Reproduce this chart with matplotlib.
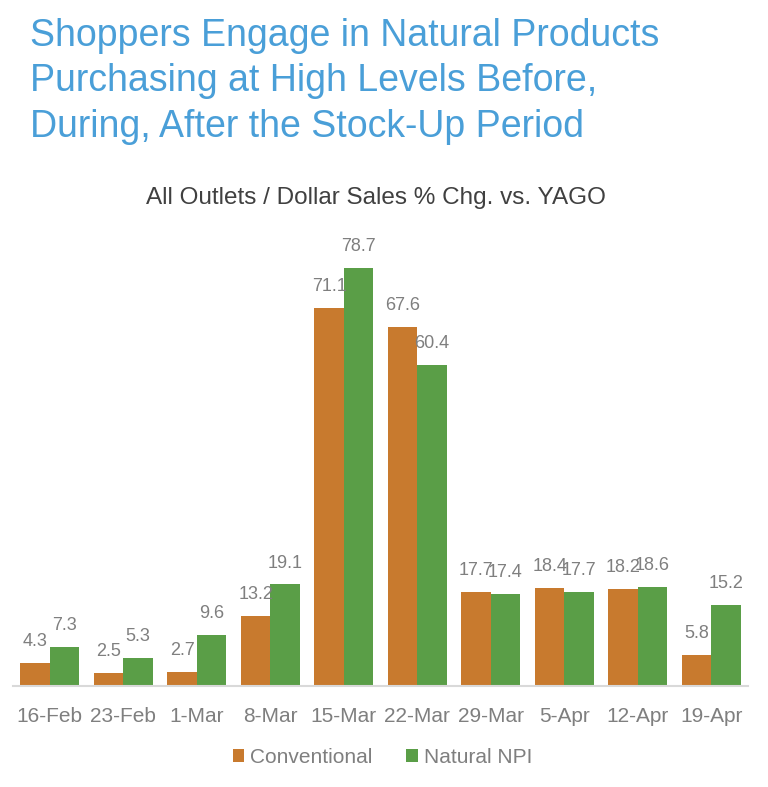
import numpy as np
import matplotlib.pyplot as plt

plt.rcParams['font.family'] = ['Liberation Sans', 'DejaVu Sans']

weeks = ["16-Feb", "23-Feb", "1-Mar", "8-Mar", "15-Mar", "22-Mar", "29-Mar", "5-Apr", "12-Apr", "19-Apr"]
conventional = [4.3, 2.5, 2.7, 13.2, 71.1, 67.6, 17.7, 18.4, 18.2, 5.8]
natural = [7.3, 5.3, 9.6, 19.1, 78.7, 60.4, 17.4, 17.7, 18.6, 15.2]

orange = "#c87a2e"
green = "#5a9e47"
gray = "#7f7f7f"

fig = plt.figure(figsize=(7.68, 7.87), dpi=100)
ax = fig.add_axes([0.017, 0.1283, 0.957, 0.554])

x = np.arange(len(weeks))
w = 0.4
b1 = ax.bar(x - w/2, conventional, w, color=orange, label="Conventional")
b2 = ax.bar(x + w/2, natural, w, color=green, label="Natural NPI")

for bars, vals in ((b1, conventional), (b2, natural)):
    for r, v in zip(bars, vals):
        ax.text(r.get_x() + r.get_width()/2, v + 2.4, f"{v:.1f}", ha="center", va="bottom",
                fontsize=13, color=gray)

ax.set_xlim(-0.5, len(weeks) - 0.5)
ax.set_ylim(0, 82)
ax.set_yticks([])
ax.set_xticks(x)
ax.set_xticklabels(weeks, fontsize=15, color=gray)
ax.tick_params(axis="x", length=0, pad=15)
for s in ["top", "right", "left"]:
    ax.spines[s].set_visible(False)
ax.spines["bottom"].set_color("#d9d9d9")
ax.spines["bottom"].set_linewidth(1.5)

fig.text(0.039, 0.977, "Shoppers Engage in Natural Products\nPurchasing at High Levels Before,\nDuring, After the Stock-Up Period",
         ha="left", va="top", fontsize=27, color="#4a9fd8", linespacing=1.33)
fig.text(0.49, 0.748, "All Outlets / Dollar Sales % Chg. vs. YAGO", ha="center", va="center",
         fontsize=17.5, color="#404040")

leg = fig.legend(loc="center", bbox_to_anchor=(0.498, 0.038), ncol=2, frameon=False,
                 fontsize=15, handlelength=0.55, handleheight=0.55, handletextpad=0.3,
                 columnspacing=1.6)
for t in leg.get_texts():
    t.set_color(gray)

fig.savefig("out.png", dpi=100)
